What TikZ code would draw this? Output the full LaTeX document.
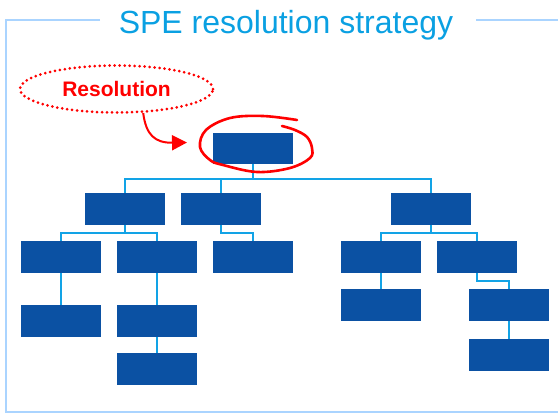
\documentclass[tikz,border=0pt]{standalone}
\usepackage{fontspec}
\setmainfont{Liberation Sans}
\usetikzlibrary{arrows.meta,shapes.geometric}
\definecolor{boxblue}{RGB}{11,81,163}
\definecolor{linkblue}{RGB}{18,163,230}
\definecolor{titleblue}{RGB}{10,160,226}
\definecolor{framblue}{RGB}{170,212,255}
\definecolor{hotred}{RGB}{255,0,0}
\tikzset{
  bx/.style={fill=boxblue,draw=none,minimum width=80pt,minimum height=31.5pt,inner sep=0pt},
  conn/.style={draw=linkblue,line width=2pt},
  framel/.style={draw=framblue,line width=2pt},
}
\begin{document}
\begin{tikzpicture}[x=1pt,y=-1pt]
\useasboundingbox (0,0) rectangle (558,413);
% frame
\coordinate (f1) at (100,20);
\coordinate (f2) at (6,20);
\coordinate (f3) at (6,412);
\coordinate (f4) at (558,412);
\coordinate (f5) at (476,20);
\coordinate (f6) at (558,20);
\draw[framel] (f1) -- (f2) -- (f3) -- (f4);
\draw[framel] (f5) -- (f6);
\node[anchor=base,text=titleblue,font=\fontsize{32}{32}\selectfont,inner sep=0pt] (title) at (286,33) {SPE resolution strategy};
% boxes
\node[bx] (root) at (253,148.5) {};
\node[bx] (A) at (125,209) {};
\node[bx] (B) at (220.5,209) {};
\node[bx] (C) at (431,209) {};
\node[bx] (A1) at (60.5,257) {};
\node[bx] (A2) at (157,257) {};
\node[bx] (B1) at (253,257) {};
\node[bx] (C1) at (381,257) {};
\node[bx] (C2) at (477,257) {};
\node[bx] (A1a) at (60.5,321) {};
\node[bx] (A2a) at (157,321) {};
\node[bx] (A2b) at (157,369) {};
\node[bx] (C1a) at (381,305) {};
\node[bx] (C2a) at (509,305) {};
\node[bx] (C2b) at (509,355) {};
% connectors
\draw[conn] (root.south) -- ++(0,15) -| (A.north);
\draw[conn] (root.south) -- ++(0,15) -| (B.north);
\draw[conn] (root.south) -- ++(0,15) -| (C.north);
\draw[conn] (A.south) -- ++(0,8) -| (A1.north);
\draw[conn] (A.south) -- ++(0,8) -| (A2.north);
\draw[conn] (B.south) -- ++(0,8) -| (B1.north);
\draw[conn] (C.south) -- ++(0,8) -| (C1.north);
\draw[conn] (C.south) -- ++(0,8) -| (C2.north);
\draw[conn] (A1.south) -- (A1a.north);
\draw[conn] (A2.south) -- (A2a.north);
\draw[conn] (A2a.south) -- (A2b.north);
\draw[conn] (C1.south) -- (C1a.north);
\draw[conn] (C2.south) -- ++(0,8) -| (C2a.north);
\draw[conn] (C2a.south) -- (C2b.north);
% resolution callout
\node[ellipse,draw=hotred,line width=3pt,dash pattern=on 0pt off 5pt,line cap=round,
      minimum width=193pt,minimum height=47pt,inner sep=0pt,
      text=hotred,font=\bfseries\fontsize{21}{21}\selectfont] (res) at (116.5,89) {Resolution};
\coordinate (tip) at (187,142.5);
\draw[hotred,line width=2pt,-{Triangle[length=15pt,width=15pt]}]
  (res.-42) .. controls (146,135) and (155,143) .. (tip);
% hand-drawn loop around root
\draw[hotred,line width=2.6pt,line cap=round] plot[smooth,tension=0.6] coordinates
  {(297,120) (263,116) (230,118) (206,130) (200,147) (210,160) (223,165) (257,172) (290,168) (310,158) (312,148) (307,137) (295,130) (282,126)};
\end{tikzpicture}
\end{document}
